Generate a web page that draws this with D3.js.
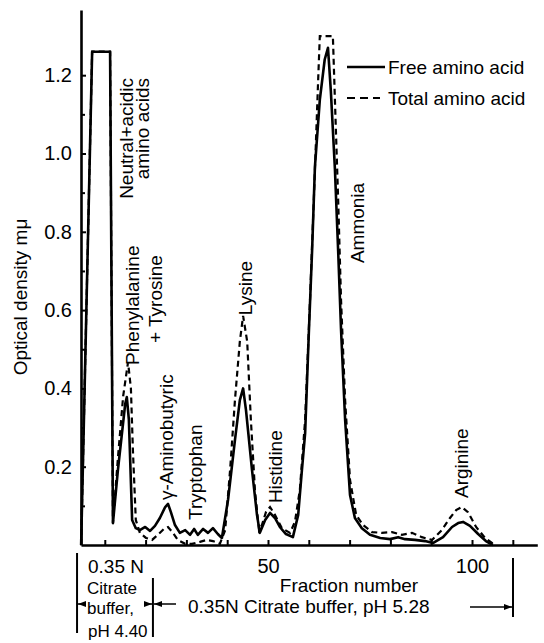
<!DOCTYPE html>
<html>
<head>
<meta charset="utf-8">
<script src="https://cdn.jsdelivr.net/npm/d3@7"></script>
<style>
	body { margin: 0; background: #fff; }
	text { font-family: "Liberation Sans", Arial, sans-serif; fill: #000; }
</style>
</head>
<body>
<div id="chart"></div>
<script>
// free amino acid (solid)
var freeX = [4.2, 6.9, 11.3, 12.0, 13.2, 15.0, 15.4, 15.9, 16.7, 17.6, 18.6, 19.9, 21.1, 22.3, 23.5, 24.8, 25.5, 26.2, 27.2, 28.4,
	29.7, 30.9, 31.9, 32.8, 34.1, 35.3, 36.5, 37.7, 38.7, 40.2, 41.9, 43.1, 43.9, 44.6, 46.1, 47.3, 48.0, 49.3, 50.5, 51.7,
	52.9, 54.4, 56.1, 57.4, 58.3, 59.1, 60.0, 60.8, 61.5, 62.7, 63.9, 64.7, 65.4, 66.4, 67.2, 67.9, 68.9, 70.1, 71.3, 73.0,
	75.0, 77.5, 79.9, 81.9, 83.6, 86.0, 88.5, 90.4, 92.9, 95.1, 96.6, 97.8, 99.5, 101.5, 103.4, 105.1]
var freeOD = [0.0, 1.26, 1.26, 0.056, 0.19, 0.36, 0.378, 0.32, 0.064, 0.043, 0.038, 0.046, 0.036, 0.049, 0.069, 0.097, 0.105, 0.084, 0.051, 0.031,
	0.038, 0.026, 0.041, 0.026, 0.041, 0.031, 0.043, 0.028, 0.018, 0.115, 0.268, 0.37, 0.40, 0.345, 0.19, 0.077, 0.031, 0.064, 0.082, 0.069,
	0.046, 0.028, 0.020, 0.077, 0.19, 0.286, 0.54, 0.75, 0.966, 1.137, 1.24, 1.27, 1.16, 0.96, 0.75, 0.55, 0.32, 0.128, 0.069, 0.043,
	0.026, 0.018, 0.015, 0.020, 0.015, 0.013, 0.010, 0.005, 0.020, 0.046, 0.056, 0.059, 0.049, 0.028, 0.010, 0.0]

// total amino acid (dashed)
var totalX = [4.2, 6.9, 11.3, 12.0, 13.2, 14.5, 15.7, 16.4, 16.9, 17.6, 18.6, 20.1, 21.6, 23.0, 24.5, 25.5, 26.7, 27.9, 29.7, 31.4,
	33.3, 35.0, 36.5, 38.2, 39.5, 40.7, 41.9, 43.1, 43.9, 44.9, 45.8, 46.8, 47.8, 48.5, 49.5, 50.5, 51.7, 53.4, 55.4, 56.6,
	57.8, 59.1, 60.3, 61.5, 62.3, 62.7, 65.9, 66.4, 67.2, 67.9, 68.9, 70.1, 71.6, 73.3, 75.5, 77.9, 80.4, 82.8, 85.3, 87.7,
	90.2, 92.6, 94.6, 96.1, 97.5, 99.0, 101.0, 103.2, 105.6]
var totalOD = [0.0, 1.26, 1.26, 0.056, 0.22, 0.38, 0.467, 0.40, 0.24, 0.064, 0.031, 0.018, 0.013, 0.026, 0.041, 0.046, 0.031, 0.013, 0.003, 0.003,
	0.008, 0.013, 0.010, 0.003, 0.038, 0.19, 0.37, 0.52, 0.585, 0.52, 0.32, 0.14, 0.038, 0.051, 0.084, 0.097, 0.077, 0.043, 0.031, 0.059,
	0.14, 0.32, 0.626, 0.958, 1.19, 1.30, 1.30, 1.137, 0.88, 0.626, 0.37, 0.166, 0.077, 0.051, 0.033, 0.031, 0.033, 0.026, 0.031, 0.020,
	0.013, 0.038, 0.069, 0.089, 0.097, 0.084, 0.046, 0.018, 0.0]

var yMajor = [0.2, 0.4, 0.6, 0.8, 1.0, 1.2]
var yMinor = [0.1, 0.3, 0.5, 0.7, 0.9, 1.1]
var xTicks = [10, 20, 30, 40, 50, 60, 70, 80, 90, 100, 110]
var xLabels = [50, 100]

var peakNames = ["Neutral+acidic", "amino acids", "Phenylalanine", "+ Tyrosine", "γ-Aminobutyric",
	"Tryptophan", "Lysine", "Histidine", "Ammonia", "Arginine"]
var seriesNames = ["Free amino acid", "Total amino acid"]

var width = 544
var height = 643
var svg = d3.select("#chart").append("svg")
	.attr("width", width)
	.attr("height", height)

var x = d3.scaleLinear().domain([4.17, 116]).range([81, 537.3])
var y = d3.scaleLinear().domain([0, 1.3665]).range([545, 10])

// axes
var yAxis = svg.append("g")
	.attr("transform", "translate(81,0)")
	.call(d3.axisLeft(y).tickValues(yMajor).tickSizeInner(-5).tickSizeOuter(0).tickPadding(9)
		.tickFormat(d3.format(".1f")))
yAxis.select(".domain").attr("stroke-width", 2.6)
yAxis.selectAll(".tick line").attr("stroke-width", 2)
yAxis.selectAll("text").attr("font-size", 20).attr("font-family", null)

var yMin = svg.append("g")
	.attr("transform", "translate(81,0)")
	.call(d3.axisLeft(y).tickValues(yMinor).tickSizeInner(-4).tickSizeOuter(0).tickFormat(""))
yMin.select(".domain").remove()
yMin.selectAll(".tick line").attr("stroke-width", 2)

var xAxis = svg.append("g")
	.attr("transform", "translate(0,545)")
	.call(d3.axisBottom(x).tickValues(xTicks).tickSizeInner(-5).tickSizeOuter(0).tickFormat(""))
xAxis.select(".domain").attr("stroke-width", 2.6)
xAxis.selectAll(".tick line").attr("stroke-width", 2)

var xLab = svg.append("g")
	.attr("transform", "translate(0,545)")
	.call(d3.axisBottom(x).tickValues(xLabels).tickSize(0).tickPadding(14))
xLab.select(".domain").remove()
xLab.selectAll("text").attr("font-size", 20).attr("font-family", null)

svg.append("text")
	.attr("transform", "translate(20,297) rotate(-90)")
	.attr("text-anchor", "middle")
	.attr("dy", "0.35em")
	.attr("font-size", 19)
	.text("Optical density  mμ")

// curves
var line = d3.line()
	.x(function(d) { return x(d[0]) })
	.y(function(d) { return y(d[1]) })

svg.append("path")
	.datum(d3.zip(totalX, totalOD))
	.attr("d", line)
	.attr("fill", "none")
	.attr("stroke", "#000")
	.attr("stroke-width", 2.2)
	.attr("stroke-dasharray", "6,4")

svg.append("path")
	.datum(d3.zip(freeX, freeOD))
	.attr("d", line)
	.attr("fill", "none")
	.attr("stroke", "#000")
	.attr("stroke-width", 2.6)
	.attr("stroke-linejoin", "round")

// peak labels, anchored in data coordinates (fraction, OD)
var peakAt = [[15.2, 1.193, "end"], [19.3, 1.193, "end"], [16.7, 0.46, "start"], [22.3, 0.516, "start"],
	[25.2, 0.115, "start"], [32.1, 0.064, "start"], [44.4, 0.587, "start"], [51.7, 0.107, "start"],
	[71.8, 0.72, "start"], [97.5, 0.12, "start"]]
svg.selectAll(".peak")
	.data(peakNames)
	.enter()
	.append("text")
	.attr("class", "peak")
	.attr("transform", function(d, i) {
		return "translate(" + x(peakAt[i][0]) + "," + y(peakAt[i][1]) + ") rotate(-90)"
	})
	.attr("text-anchor", function(d, i) { return peakAt[i][2] })
	.attr("dy", "0.35em")
	.attr("font-size", 19)
	.text(function(d) { return d })

// legend
var legend = svg.append("g").attr("transform", "translate(347,67)")
legend.selectAll("line")
	.data(seriesNames)
	.enter()
	.append("line")
	.attr("x1", 0)
	.attr("x2", function(d, i) { return i ? 33 : 38 })
	.attr("y1", function(d, i) { return i * 31 })
	.attr("y2", function(d, i) { return i * 31 })
	.attr("stroke", "#000")
	.attr("stroke-width", function(d, i) { return i ? 2.2 : 2.6 })
	.attr("stroke-dasharray", function(d, i) { return i ? "8,5" : null })
legend.selectAll("text")
	.data(seriesNames)
	.enter()
	.append("text")
	.attr("x", 41)
	.attr("y", function(d, i) { return i * 31 })
	.attr("dy", "0.35em")
	.attr("font-size", 19)
	.text(function(d) { return d })

// buffer annotation under the axis
svg.append("defs").append("marker")
	.attr("id", "head")
	.attr("viewBox", "0 0 8 6")
	.attr("refX", 8).attr("refY", 3)
	.attr("markerWidth", 8).attr("markerHeight", 6)
	.attr("markerUnits", "userSpaceOnUse")
	.attr("orient", "auto")
	.append("path").attr("d", "M0,0L8,3L0,6Z")

var note = svg.append("g").attr("stroke", "#000").attr("stroke-width", 2)
note.append("line").attr("x1", x(3.2)).attr("x2", x(3.2)).attr("y1", 553).attr("y2", 633)
note.append("line").attr("x1", x(21.8)).attr("x2", x(21.8)).attr("y1", 578).attr("y2", 637)
note.append("line").attr("x1", x(110.05)).attr("x2", x(110.05)).attr("y1", 558).attr("y2", 617)
var arrows = [[86, 78, 604], [146, 152, 604], [176, 154, 604], [470, 512, 607]]
note.selectAll(".arrow")
	.data(arrows)
	.enter()
	.append("line")
	.attr("class", "arrow")
	.attr("x1", function(d) { return d[0] })
	.attr("x2", function(d) { return d[1] })
	.attr("y1", function(d) { return d[2] })
	.attr("y2", function(d) { return d[2] })
	.attr("stroke-width", 1.5)
	.attr("marker-end", "url(#head)")

var small = [["0.35 N", 88, 573, 19], ["Citrate", 87, 594, 17], ["buffer,", 87, 614, 17], ["pH 4.40", 88, 637, 17]]
svg.selectAll(".small")
	.data(small)
	.enter()
	.append("text")
	.attr("class", "small")
	.attr("x", function(d) { return d[1] })
	.attr("y", function(d) { return d[2] })
	.attr("font-size", function(d) { return d[3] })
	.text(function(d) { return d[0] })

svg.append("text")
	.attr("x", 349).attr("y", 592)
	.attr("text-anchor", "middle")
	.attr("font-size", 19)
	.text("Fraction number")

svg.append("text")
	.attr("x", 188).attr("y", 613)
	.attr("font-size", 19)
	.text("0.35N  Citrate buffer, pH 5.28")
</script>
</body>
</html>
